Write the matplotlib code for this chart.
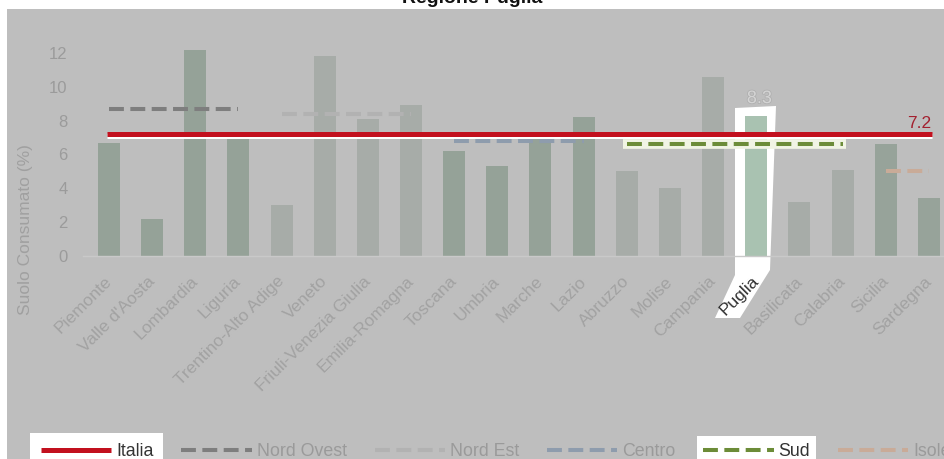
import matplotlib
matplotlib.use('Agg')
import matplotlib.pyplot as plt
from matplotlib.lines import Line2D
from matplotlib.patches import Rectangle, Polygon
import matplotlib.patheffects as pe
import matplotlib.transforms as mtransforms

# ---------------- data ----------------
regions = ['Piemonte', "Valle d'Aosta", 'Lombardia', 'Liguria', 'Trentino-Alto Adige',
           'Veneto', 'Friuli-Venezia Giulia', 'Emilia-Romagna', 'Toscana', 'Umbria',
           'Marche', 'Lazio', 'Abruzzo', 'Molise', 'Campania', 'Puglia', 'Basilicata',
           'Calabria', 'Sicilia', 'Sardegna']
values = [6.7, 2.2, 12.2, 7.0, 3.0, 11.8, 8.1, 8.9, 6.2, 5.3,
          7.1, 8.2, 5.0, 4.0, 10.6, 8.3, 3.2, 5.1, 6.6, 3.4]
region_area = ['Nord Ovest'] * 4 + ['Nord Est'] * 4 + ['Centro'] * 4 + ['Sud'] * 6 + ['Isole'] * 2
area_names = ['Nord Ovest', 'Nord Est', 'Centro', 'Sud', 'Isole']
area_means = [8.7, 8.4, 6.8, 6.6, 5.0]
italia_value = 7.2
highlight_region = 'Puglia'
highlight_area = 'Sud'
title = 'Regione Puglia'
y_label = 'Suolo Consumato (%)'
y_ticks = [0, 2, 4, 6, 8, 10, 12]

# ---------------- style ----------------
W, H = 944, 459
FONT = ['Liberation Sans', 'DejaVu Sans']
bg = '#BEBEBE'
bar_colors = {'Nord Ovest': '#95A298', 'Nord Est': '#A7ACA8', 'Centro': '#95A298',
              'Sud': '#A7ACA8', 'Isole': '#97A39A'}
highlight_bar = '#A9C2B1'
line_colors = {'Nord Ovest': '#7E7E7E', 'Nord Est': '#B2B2B2', 'Centro': '#8E9CAD',
               'Sud': '#6C8C38', 'Isole': '#C9AB98'}
red = '#C2101E'


def fx(x):
    return x / W


def fy(y):
    return 1 - y / H


fig = plt.figure(figsize=(W / 100, H / 100), dpi=100)
fig.patch.set_facecolor('white')
fig.add_artist(Rectangle((fx(7), 0), 1 - fx(7), fy(9), transform=fig.transFigure,
                         facecolor=bg, edgecolor='none', zorder=-2))

# white highlight shape around Puglia bar and its label
shape = [(735, 108), (776, 106), (770, 270), (740, 318), (715, 318), (735, 275)]
fig.add_artist(Polygon([(fx(a), fy(b)) for a, b in shape], closed=True,
                       transform=fig.transFigure, facecolor='white',
                       edgecolor='none', zorder=-1))

fig.text(0.5, fy(3.0), title, ha='center', va='baseline', fontsize=14,
         fontweight='bold', family=FONT, color='#111111')

ax_bottom = 256
unit = 16.92
ymax = 13
ax = fig.add_axes([fx(83), fy(ax_bottom), fx(944) - fx(83), ymax * unit / H])
ax.set_facecolor('none')
n = len(regions)
ax.set_xlim(-0.6, n - 1 + 0.35)
ax.set_ylim(0, ymax)

xs = list(range(n))
colors = [highlight_bar if r == highlight_region else bar_colors[a]
          for r, a in zip(regions, region_area)]
ax.bar(xs, values, width=0.51, color=colors, zorder=2)

# area mean lines
for name, m in zip(area_names, area_means):
    idx = [i for i, a in enumerate(region_area) if a == name]
    i0, i1 = idx[0], idx[-1]
    if name == highlight_area:
        ax.plot([i0 - 0.08, i1 + 0.08], [m, m], color='#F1F4E4', lw=7,
                solid_capstyle='butt', zorder=3)
    ax.plot([i0, i1], [m, m], color=line_colors[name], lw=2.9,
            dashes=(3.7, 1.6), dash_capstyle='butt', zorder=4)

# Italia line
ax.plot([-0.05, n - 1 + 0.07], [italia_value, italia_value], color=red, lw=3.6,
        solid_capstyle='butt', zorder=5,
        path_effects=[pe.Stroke(linewidth=3.6, foreground='white', offset=(0, -1.6)),
                      pe.Normal()])
ax.text(n - 1 + 0.05, italia_value + 0.17, f'{italia_value}', ha='right', va='bottom',
        fontsize=12.5, color='#A3202F', family=FONT, zorder=6)

# faint value label over the highlighted bar
hi = regions.index(highlight_region)
ax.text(hi + 0.07, values[hi] + 0.5, f'{values[hi]}', ha='center', va='bottom', fontsize=13,
        color='#D4D4D4', family=FONT,
        path_effects=[pe.withStroke(linewidth=1.2, foreground='#B0B0B0')], zorder=6)

for s in ['top', 'right', 'left']:
    ax.spines[s].set_visible(False)
ax.spines['bottom'].set_color('#C9C9C9')
ax.spines['bottom'].set_linewidth(1)

ax.set_yticks(y_ticks)
ax.set_yticklabels([str(t) for t in y_ticks], family=FONT, fontsize=12, color='#9B9B9B')
ax.tick_params(axis='y', length=0, pad=11)
ax.set_xticks(xs)
ax.set_xticklabels(regions, rotation=45, ha='right', rotation_mode='anchor',
                   family=FONT, fontsize=12.5, color='#A2A2A2')
ax.tick_params(axis='x', length=0, pad=12)
shift = mtransforms.ScaledTranslation(-5 / 100, -1 / 100, fig.dpi_scale_trans)
for lab in ax.get_xticklabels():
    lab.set_transform(lab.get_transform() + shift)
    if lab.get_text() == highlight_region:
        lab.set_color('#333333')

ax.set_ylabel(y_label, family=FONT, fontsize=12.5, color='#A0A0A0')
ax.yaxis.set_label_coords(-0.058, 0.118)

# legend
handles = [Line2D([], [], color=red, lw=3.6, solid_capstyle='butt')]
labels = ['Italia']
for name in area_names:
    handles.append(Line2D([], [], color=line_colors[name], lw=2.9,
                          dashes=(3.7, 1.6), dash_capstyle='butt'))
    labels.append(name)
leg = fig.legend(handles, labels, loc='center left', bbox_to_anchor=(fx(41), fy(452)),
                 ncol=6, frameon=False, borderpad=0, borderaxespad=0,
                 handlelength=3.95, handletextpad=0.27, columnspacing=1.58,
                 prop={'family': FONT, 'size': 12.8})
for t in leg.get_texts():
    t.set_color('#333333' if t.get_text() in ('Italia', highlight_area) else '#9A9A9A')

fig.canvas.draw()
r = fig.canvas.get_renderer()
for key in ('Italia', highlight_area):
    k = labels.index(key)
    hb = leg.legend_handles[k].get_window_extent(r)
    tb = leg.get_texts()[k].get_window_extent(r)
    x0 = min(hb.x0, tb.x0) - (11 if key == 'Italia' else 6)
    x1 = max(hb.x1, tb.x1) + (10 if key == 'Italia' else 6)
    y1 = H - (433 if key == 'Italia' else 436)
    fig.add_artist(Rectangle((x0 / W, 0), (x1 - x0) / W, y1 / H, transform=fig.transFigure,
                             facecolor='white', edgecolor='none', zorder=-1))

fig.savefig('out.png', dpi=100, facecolor='white')
